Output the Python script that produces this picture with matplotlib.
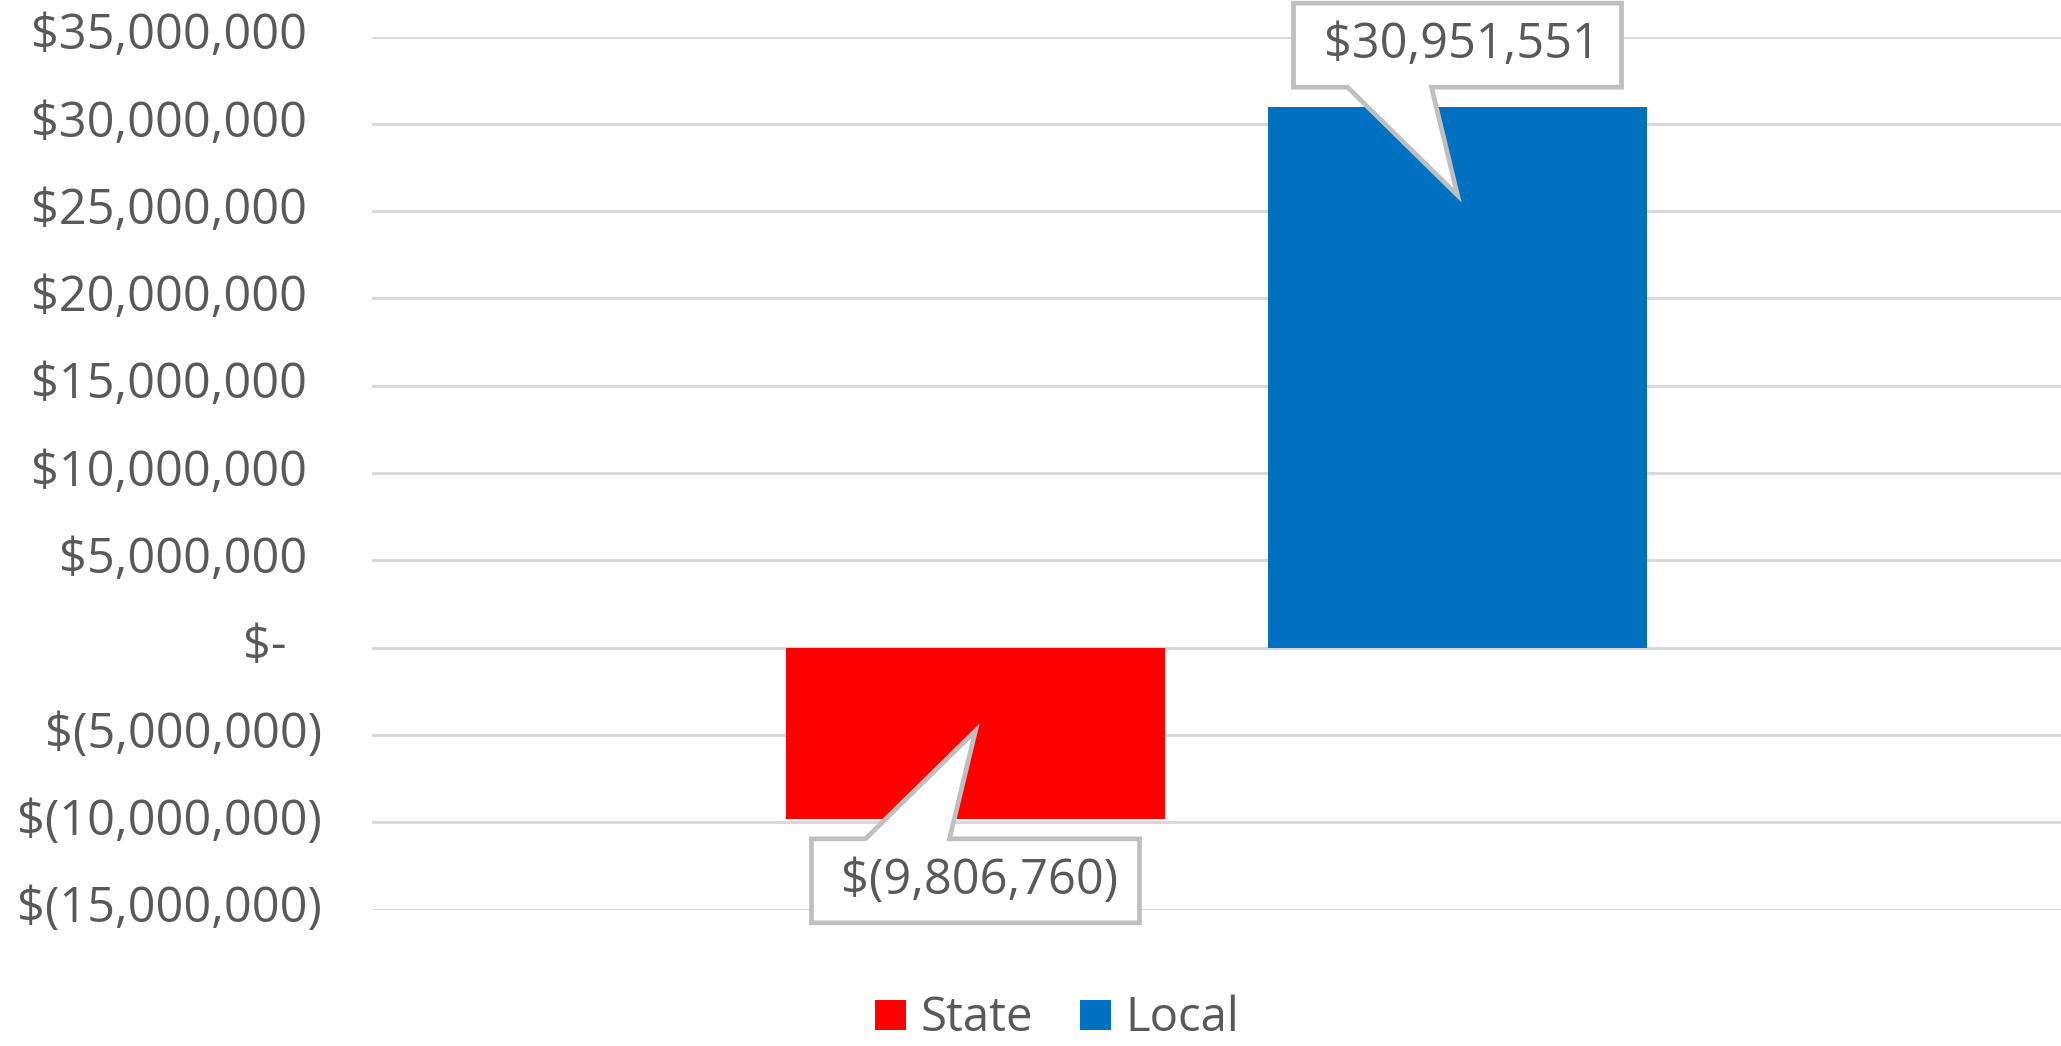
import matplotlib
matplotlib.use("Agg")
from matplotlib import pyplot as plt
from matplotlib import transforms
from matplotlib.patches import Patch, Polygon

plt.rcParams['font.family'] = ['Open Sans', 'DejaVu Sans']

series = ['State', 'Local']
values = [-9806760, 30951551]
colors = ['#FF0000', '#0070C0']
offsets = [-0.1427, 0.1427]
yticks = [-15000000, -10000000, -5000000, 0, 5000000, 10000000, 15000000,
          20000000, 25000000, 30000000, 35000000]

text_col = '#595959'
fs = 35
DPI = 100


def money(v):
    # excel accounting style
    if v == 0:
        return '$-'
    if v < 0:
        return '$({:,})'.format(-v)
    return '${:,}'.format(v)


fig = plt.figure(figsize=(20.61, 10.46), dpi=DPI)
ax = fig.add_axes([372/2061, 1 - 909.5/1046, 1 - 372/2061, (909.5 - 36.5)/1046])

ax.bar(offsets, values, width=0.224, color=colors, zorder=2)
ax.set_xlim(-0.5, 0.5)
ax.set_ylim(yticks[0], yticks[-1])
ax.set_xticks([])
ax.set_yticks(yticks)
ax.set_yticklabels([])
ax.tick_params(axis='y', length=0)
ax.grid(axis='y', color='#D9D9D9', lw=2.2, zorder=0)
for s in ax.spines.values():
    s.set_visible(False)

# tick labels drawn by hand so the accounting format lines up
for v in yticks:
    pad = 50 if v < 0 else (85 if v == 0 else 65)
    tr = ax.get_yaxis_transform() + transforms.ScaledTranslation(-pad/DPI, 0, fig.dpi_scale_trans)
    ax.text(0, v, money(v), transform=tr, ha='right', va='center',
            fontsize=fs, color=text_col, clip_on=False)

# data callouts (pixel offsets from bar end)
for x, v in zip(offsets, values):
    s = 1 if v >= 0 else -1
    px = [(-164, 20), (-110, 20), (0, -88), (-26, 20), (164, 20), (164, 104), (-164, 104)]
    verts = [(a/DPI, s*b/DPI) for a, b in px]
    tr = fig.dpi_scale_trans + transforms.ScaledTranslation(x, v, ax.transData)
    ax.add_patch(Polygon(verts, closed=True, transform=tr, facecolor='white',
                         edgecolor='#BFBFBF', lw=3.4, joinstyle='miter',
                         zorder=5, clip_on=False))
    ax.text(4/DPI, s*62/DPI, money(v), transform=tr, ha='center', va='center',
            fontsize=fs, color=text_col, zorder=6, clip_on=False)

handles = [Patch(facecolor=c, edgecolor='none') for c in colors]
fig.legend(handles, series, loc='lower center', bbox_to_anchor=(1057/2061, -20/1046),
           ncol=2, frameon=False, fontsize=34, labelcolor=text_col,
           handlelength=0.66, handleheight=0.6, handletextpad=0.3,
           columnspacing=1.0, borderpad=0)

fig.savefig('out.png', dpi=DPI)
